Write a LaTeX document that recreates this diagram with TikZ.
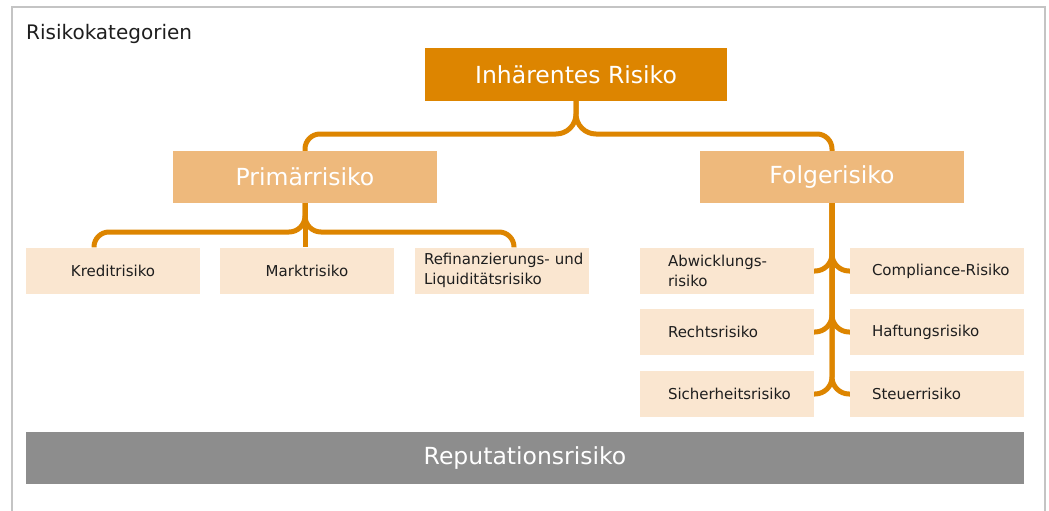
\documentclass[tikz,border=0pt]{standalone}
\usepackage{fontspec}
\setmainfont{DejaVu Sans}
\definecolor{darkor}{HTML}{DD8500}
\definecolor{lightor}{HTML}{EEB97C}
\definecolor{paleor}{HTML}{FAE6D0}
\definecolor{repgray}{HTML}{8D8D8D}
\definecolor{framegray}{HTML}{C4C4C4}
\definecolor{txt}{HTML}{1E1E1E}
\tikzset{
  bigbox/.style={inner sep=0pt, minimum height=52pt, text=white, font=\fontsize{23.5}{28}\selectfont},
  topbox/.style={bigbox, fill=darkor, minimum width=302pt, minimum height=53pt},
  midbox/.style={bigbox, fill=lightor, minimum width=264pt},
  leaf/.style={fill=paleor, inner sep=0pt, minimum width=174pt, minimum height=46pt, text=txt, font=\fontsize{15}{19.5}\selectfont},
  leafl/.style={leaf, align=left, text width=118pt},
  leafr/.style={leaf, align=left, text width=130pt},
  conn/.style={draw=darkor, line width=5pt},
}
\begin{document}
\begin{tikzpicture}[x=1pt,y=-1pt]
\useasboundingbox (0,0) rectangle (1049,511);
\draw[framegray, line width=1.5pt] (12,511) -- (12,7) -- (1045,7) -- (1045,511);
\node[anchor=base west, font=\fontsize{20}{24}\selectfont, text=txt, inner sep=0pt] (title) at (26,40) {Risikokategorien};

\node[topbox] (inh) at (576,74.5) {Inhärentes Risiko};
\node[midbox] (prim) at (305,177) {Primärrisiko};
\node[midbox] (folge) at (832,177) {Folgerisiko};

\node[leaf] (kredit) at (113,270.5) {Kreditrisiko};
\node[leaf] (markt) at (307,270.5) {Marktrisiko};
\node[leaf, align=left, text width=156pt] (refi) at (502,270.5) {\mbox{Refinanzierungs- und}\\\mbox{Liquiditätsrisiko}};

\node[leafl] (abw) at (727,271) {\mbox{Abwicklungs-}\\risiko};
\node[leafl] (recht) at (727,332) {\mbox{Rechtsrisiko}};
\node[leafl] (sich) at (727,394) {\mbox{Sicherheitsrisiko}};
\node[leafr] (comp) at (937,271) {\mbox{Compliance-Risiko}};
\node[leafr] (haft) at (937,332) {\mbox{Haftungsrisiko}};
\node[leafr] (steuer) at (937,394) {\mbox{Steuerrisiko}};

\node[fill=repgray, inner sep=0pt, minimum width=998pt, minimum height=52pt, text=white, font=\fontsize{23.5}{28}\selectfont] (rep) at (525,458) {Reputationsrisiko};

\coordinate (h1) at (440,134);
\coordinate (h2) at (700,134);
\coordinate (c1) at (200,232);
\coordinate (c2) at (420,232);

\draw[conn] (inh.south) [rounded corners=20pt] |- (h1) [rounded corners=15pt] -| (prim.north);
\draw[conn] (inh.south) [rounded corners=20pt] |- (h2) [rounded corners=15pt] -| (folge.north);

\draw[conn] (prim.south) [rounded corners=16pt] |- (c1) [rounded corners=15pt] -| ([xshift=-19pt]kredit.north);
\draw[conn] (prim.south) [rounded corners=16pt] |- (c2) [rounded corners=15pt] -| ([xshift=12pt]refi.north);
\draw[conn] (prim.south) -- (prim.south |- markt.north);

\foreach \n in {abw,recht,sich}{
  \draw[conn, rounded corners=17pt] (\n.east) -| (folge.south);
}
\foreach \n in {comp,haft,steuer}{
  \draw[conn, rounded corners=17pt] (\n.west) -| (folge.south);
}
\end{tikzpicture}
\end{document}
